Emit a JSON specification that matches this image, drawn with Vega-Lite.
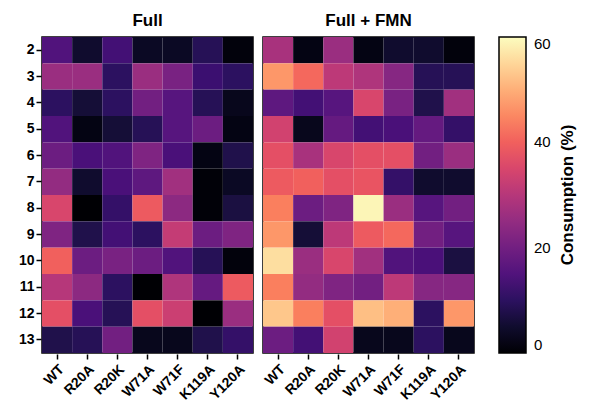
{
  "$schema": "https://vega.github.io/schema/vega-lite/v6.json",
  "padding": {"left": 18, "top": 12, "right": 5, "bottom": 5},
  "config": {
    "font": "Liberation Sans",
    "view": {"stroke": "#000", "strokeWidth": 1.5},
    "facet": {"spacing": 8}
  },
  "data": {
    "values": [
      {"panel":"Full","row":2,"col":"WT","v":15},{"panel":"Full","row":2,"col":"R20A","v":5},{"panel":"Full","row":2,"col":"R20K","v":13},{"panel":"Full","row":2,"col":"W71A","v":4},{"panel":"Full","row":2,"col":"W71F","v":4},{"panel":"Full","row":2,"col":"K119A","v":9},{"panel":"Full","row":2,"col":"Y120A","v":1},
      {"panel":"Full","row":3,"col":"WT","v":26},{"panel":"Full","row":3,"col":"R20A","v":26},{"panel":"Full","row":3,"col":"R20K","v":10},{"panel":"Full","row":3,"col":"W71A","v":26},{"panel":"Full","row":3,"col":"W71F","v":21},{"panel":"Full","row":3,"col":"K119A","v":12},{"panel":"Full","row":3,"col":"Y120A","v":10},
      {"panel":"Full","row":4,"col":"WT","v":10},{"panel":"Full","row":4,"col":"R20A","v":6},{"panel":"Full","row":4,"col":"R20K","v":10},{"panel":"Full","row":4,"col":"W71A","v":20},{"panel":"Full","row":4,"col":"W71F","v":16},{"panel":"Full","row":4,"col":"K119A","v":9},{"panel":"Full","row":4,"col":"Y120A","v":3},
      {"panel":"Full","row":5,"col":"WT","v":15},{"panel":"Full","row":5,"col":"R20A","v":2},{"panel":"Full","row":5,"col":"R20K","v":6},{"panel":"Full","row":5,"col":"W71A","v":9},{"panel":"Full","row":5,"col":"W71F","v":16},{"panel":"Full","row":5,"col":"K119A","v":19},{"panel":"Full","row":5,"col":"Y120A","v":2},
      {"panel":"Full","row":6,"col":"WT","v":19},{"panel":"Full","row":6,"col":"R20A","v":14},{"panel":"Full","row":6,"col":"R20K","v":15},{"panel":"Full","row":6,"col":"W71A","v":22},{"panel":"Full","row":6,"col":"W71F","v":14},{"panel":"Full","row":6,"col":"K119A","v":2},{"panel":"Full","row":6,"col":"Y120A","v":8},
      {"panel":"Full","row":7,"col":"WT","v":25},{"panel":"Full","row":7,"col":"R20A","v":5},{"panel":"Full","row":7,"col":"R20K","v":14},{"panel":"Full","row":7,"col":"W71A","v":17},{"panel":"Full","row":7,"col":"W71F","v":27},{"panel":"Full","row":7,"col":"K119A","v":0.5},{"panel":"Full","row":7,"col":"Y120A","v":4},
      {"panel":"Full","row":8,"col":"WT","v":35},{"panel":"Full","row":8,"col":"R20A","v":0},{"panel":"Full","row":8,"col":"R20K","v":11},{"panel":"Full","row":8,"col":"W71A","v":39},{"panel":"Full","row":8,"col":"W71F","v":24},{"panel":"Full","row":8,"col":"K119A","v":0.5},{"panel":"Full","row":8,"col":"Y120A","v":7},
      {"panel":"Full","row":9,"col":"WT","v":22},{"panel":"Full","row":9,"col":"R20A","v":8},{"panel":"Full","row":9,"col":"R20K","v":13},{"panel":"Full","row":9,"col":"W71A","v":10},{"panel":"Full","row":9,"col":"W71F","v":32},{"panel":"Full","row":9,"col":"K119A","v":19},{"panel":"Full","row":9,"col":"Y120A","v":22},
      {"panel":"Full","row":10,"col":"WT","v":40},{"panel":"Full","row":10,"col":"R20A","v":19},{"panel":"Full","row":10,"col":"R20K","v":21},{"panel":"Full","row":10,"col":"W71A","v":19},{"panel":"Full","row":10,"col":"W71F","v":15},{"panel":"Full","row":10,"col":"K119A","v":9},{"panel":"Full","row":10,"col":"Y120A","v":1},
      {"panel":"Full","row":11,"col":"WT","v":30},{"panel":"Full","row":11,"col":"R20A","v":24},{"panel":"Full","row":11,"col":"R20K","v":10},{"panel":"Full","row":11,"col":"W71A","v":0},{"panel":"Full","row":11,"col":"W71F","v":29},{"panel":"Full","row":11,"col":"K119A","v":18},{"panel":"Full","row":11,"col":"Y120A","v":39},
      {"panel":"Full","row":12,"col":"WT","v":37},{"panel":"Full","row":12,"col":"R20A","v":14},{"panel":"Full","row":12,"col":"R20K","v":9},{"panel":"Full","row":12,"col":"W71A","v":37},{"panel":"Full","row":12,"col":"W71F","v":33},{"panel":"Full","row":12,"col":"K119A","v":0},{"panel":"Full","row":12,"col":"Y120A","v":26},
      {"panel":"Full","row":13,"col":"WT","v":8},{"panel":"Full","row":13,"col":"R20A","v":9},{"panel":"Full","row":13,"col":"R20K","v":20},{"panel":"Full","row":13,"col":"W71A","v":3},{"panel":"Full","row":13,"col":"W71F","v":3},{"panel":"Full","row":13,"col":"K119A","v":8},{"panel":"Full","row":13,"col":"Y120A","v":11},
      {"panel":"Full + FMN","row":2,"col":"WT","v":28},{"panel":"Full + FMN","row":2,"col":"R20A","v":2},{"panel":"Full + FMN","row":2,"col":"R20K","v":26},{"panel":"Full + FMN","row":2,"col":"W71A","v":2},{"panel":"Full + FMN","row":2,"col":"W71F","v":5},{"panel":"Full + FMN","row":2,"col":"K119A","v":5},{"panel":"Full + FMN","row":2,"col":"Y120A","v":1},
      {"panel":"Full + FMN","row":3,"col":"WT","v":47},{"panel":"Full + FMN","row":3,"col":"R20A","v":41},{"panel":"Full + FMN","row":3,"col":"R20K","v":31},{"panel":"Full + FMN","row":3,"col":"W71A","v":29},{"panel":"Full + FMN","row":3,"col":"W71F","v":23},{"panel":"Full + FMN","row":3,"col":"K119A","v":9},{"panel":"Full + FMN","row":3,"col":"Y120A","v":9},
      {"panel":"Full + FMN","row":4,"col":"WT","v":17},{"panel":"Full + FMN","row":4,"col":"R20A","v":13},{"panel":"Full + FMN","row":4,"col":"R20K","v":16},{"panel":"Full + FMN","row":4,"col":"W71A","v":35},{"panel":"Full + FMN","row":4,"col":"W71F","v":21},{"panel":"Full + FMN","row":4,"col":"K119A","v":8},{"panel":"Full + FMN","row":4,"col":"Y120A","v":27},
      {"panel":"Full + FMN","row":5,"col":"WT","v":34},{"panel":"Full + FMN","row":5,"col":"R20A","v":3},{"panel":"Full + FMN","row":5,"col":"R20K","v":18},{"panel":"Full + FMN","row":5,"col":"W71A","v":13},{"panel":"Full + FMN","row":5,"col":"W71F","v":14},{"panel":"Full + FMN","row":5,"col":"K119A","v":18},{"panel":"Full + FMN","row":5,"col":"Y120A","v":11},
      {"panel":"Full + FMN","row":6,"col":"WT","v":37},{"panel":"Full + FMN","row":6,"col":"R20A","v":28},{"panel":"Full + FMN","row":6,"col":"R20K","v":35},{"panel":"Full + FMN","row":6,"col":"W71A","v":37},{"panel":"Full + FMN","row":6,"col":"W71F","v":37},{"panel":"Full + FMN","row":6,"col":"K119A","v":20},{"panel":"Full + FMN","row":6,"col":"Y120A","v":26},
      {"panel":"Full + FMN","row":7,"col":"WT","v":39},{"panel":"Full + FMN","row":7,"col":"R20A","v":40},{"panel":"Full + FMN","row":7,"col":"R20K","v":37},{"panel":"Full + FMN","row":7,"col":"W71A","v":38},{"panel":"Full + FMN","row":7,"col":"W71F","v":11},{"panel":"Full + FMN","row":7,"col":"K119A","v":5},{"panel":"Full + FMN","row":7,"col":"Y120A","v":5},
      {"panel":"Full + FMN","row":8,"col":"WT","v":44},{"panel":"Full + FMN","row":8,"col":"R20A","v":19},{"panel":"Full + FMN","row":8,"col":"R20K","v":22},{"panel":"Full + FMN","row":8,"col":"W71A","v":59},{"panel":"Full + FMN","row":8,"col":"W71F","v":26},{"panel":"Full + FMN","row":8,"col":"K119A","v":16},{"panel":"Full + FMN","row":8,"col":"Y120A","v":20},
      {"panel":"Full + FMN","row":9,"col":"WT","v":47},{"panel":"Full + FMN","row":9,"col":"R20A","v":6},{"panel":"Full + FMN","row":9,"col":"R20K","v":31},{"panel":"Full + FMN","row":9,"col":"W71A","v":39},{"panel":"Full + FMN","row":9,"col":"W71F","v":41},{"panel":"Full + FMN","row":9,"col":"K119A","v":20},{"panel":"Full + FMN","row":9,"col":"Y120A","v":16},
      {"panel":"Full + FMN","row":10,"col":"WT","v":56},{"panel":"Full + FMN","row":10,"col":"R20A","v":26},{"panel":"Full + FMN","row":10,"col":"R20K","v":35},{"panel":"Full + FMN","row":10,"col":"W71A","v":27},{"panel":"Full + FMN","row":10,"col":"W71F","v":15},{"panel":"Full + FMN","row":10,"col":"K119A","v":14},{"panel":"Full + FMN","row":10,"col":"Y120A","v":7},
      {"panel":"Full + FMN","row":11,"col":"WT","v":44},{"panel":"Full + FMN","row":11,"col":"R20A","v":25},{"panel":"Full + FMN","row":11,"col":"R20K","v":22},{"panel":"Full + FMN","row":11,"col":"W71A","v":20},{"panel":"Full + FMN","row":11,"col":"W71F","v":31},{"panel":"Full + FMN","row":11,"col":"K119A","v":23},{"panel":"Full + FMN","row":11,"col":"Y120A","v":23},
      {"panel":"Full + FMN","row":12,"col":"WT","v":53},{"panel":"Full + FMN","row":12,"col":"R20A","v":44},{"panel":"Full + FMN","row":12,"col":"R20K","v":37},{"panel":"Full + FMN","row":12,"col":"W71A","v":52},{"panel":"Full + FMN","row":12,"col":"W71F","v":50},{"panel":"Full + FMN","row":12,"col":"K119A","v":10},{"panel":"Full + FMN","row":12,"col":"Y120A","v":47},
      {"panel":"Full + FMN","row":13,"col":"WT","v":19},{"panel":"Full + FMN","row":13,"col":"R20A","v":13},{"panel":"Full + FMN","row":13,"col":"R20K","v":34},{"panel":"Full + FMN","row":13,"col":"W71A","v":3},{"panel":"Full + FMN","row":13,"col":"W71F","v":3},{"panel":"Full + FMN","row":13,"col":"K119A","v":10},{"panel":"Full + FMN","row":13,"col":"Y120A","v":3}
    ]
  },
  "facet": {
    "column": {
      "field": "panel",
      "type": "nominal",
      "title": null,
      "header": {"labelFontSize": 17, "labelFontWeight": "bold", "labelColor": "#000", "labelPadding": 6}
    }
  },
  "spec": {
    "width": 211,
    "height": 316,
    "mark": {"type": "rect"},
    "encoding": {
      "x": {
        "field": "col", "type": "ordinal",
        "sort": ["WT","R20A","R20K","W71A","W71F","K119A","Y120A"],
        "title": null,
        "axis": {"labelAngle": -45, "labelFontSize": 14, "labelFontWeight": "bold", "labelColor": "#000", "domain": false, "tickColor": "#000", "tickWidth": 1.5, "tickSize": 5, "labelPadding": 3}
      },
      "y": {
        "field": "row", "type": "ordinal",
        "sort": [2,3,4,5,6,7,8,9,10,11,12,13],
        "title": null,
        "axis": {"labelFontSize": 14, "labelFontWeight": "bold", "labelColor": "#000", "domain": false, "tickColor": "#000", "tickWidth": 1.5, "tickSize": 5, "labelPadding": 2}
      },
      "color": {
        "field": "v", "type": "quantitative",
        "scale": {"scheme": "magma", "domain": [0, 60]},
        "legend": {
          "title": "Consumption (%)",
          "titleFontSize": 17, "titleFontWeight": "bold", "titleColor": "#000",
          "titleOrient": "right", "titleAnchor": "middle",
          "encode": {"title": {"update": {"angle": {"value": 270}, "baseline": {"value": "top"}, "dy": {"value": 4}}}},
          "gradientLength": 316, "gradientThickness": 27,
          "gradientStrokeColor": "#000", "gradientStrokeWidth": 1.5,
          "values": [0, 20, 40, 60],
          "labelFontSize": 15, "labelColor": "#000", "labelOffset": 8,
          "offset": 24
        }
      }
    }
  }
}
